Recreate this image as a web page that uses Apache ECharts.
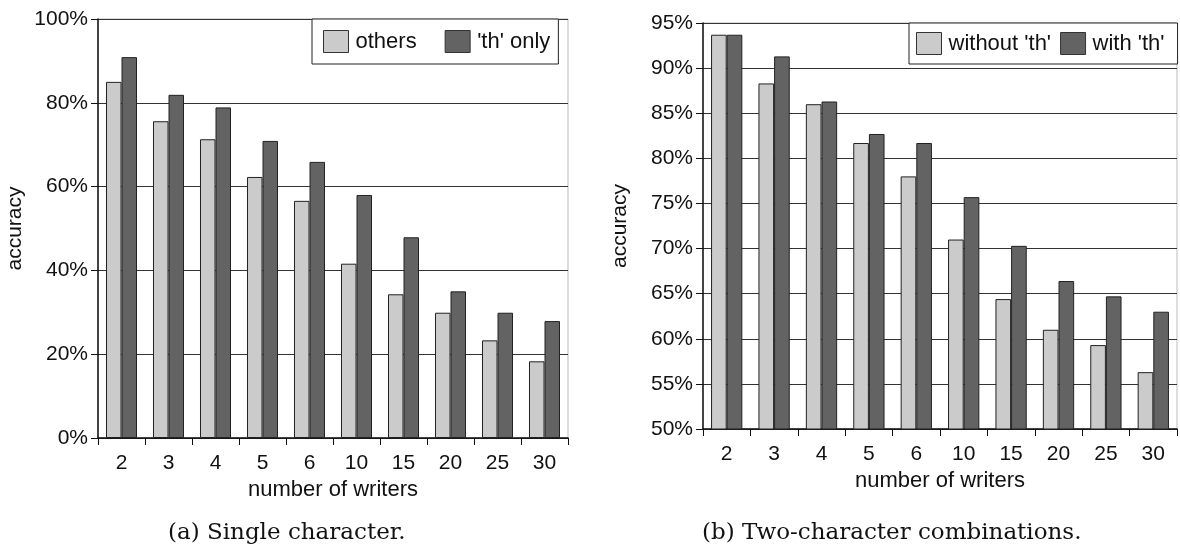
<!DOCTYPE html>
<html>
<head>
<meta charset="utf-8">
<script src="https://cdn.jsdelivr.net/npm/echarts@6/dist/echarts.min.js"></script>
<style>
html,body{margin:0;padding:0;background:#fff;}
#c{width:1180px;height:549px;}
</style>
</head>
<body>
<div id="c"></div>
<script>
const categories = ['2','3','4','5','6','10','15','20','25','30'];
// (a) Single character
const othersVals = [85.0, 75.6, 71.3, 62.3, 56.6, 41.6, 34.3, 29.9, 23.3, 18.3];
const thOnlyVals = [90.9, 81.9, 78.9, 70.9, 65.9, 58.0, 47.9, 35.0, 29.9, 27.9];
// (b) Two-character combinations
const withoutThVals = [93.7, 88.3, 86.0, 81.7, 78.0, 71.0, 64.4, 61.0, 59.3, 56.3];
const withThVals = [93.7, 91.3, 86.3, 82.7, 81.7, 75.7, 70.3, 66.4, 64.7, 63.0];
const legendA = ['others', "'th' only"];
const legendB = ["without 'th'", "with 'th'"];
const captionA = '(a) Single character.';
const captionB = '(b) Two-character combinations.';
const axisXName = 'number of writers';
const axisYName = 'accuracy';

const FONT = 'Liberation Sans, Arial, sans-serif';
const LIGHT = '#cbcbcb';
const DARK = '#636363';
const chart = echarts.init(document.getElementById('c'), null, {renderer: 'canvas'});

function xAxisCfg(gi) {
  return {
    type: 'category', gridIndex: gi, data: categories,
    axisLine: {lineStyle: {color: '#111', width: 1.5}},
    axisTick: {show: true, inside: false, length: 7, lineStyle: {color: '#111'}},
    axisLabel: {color: '#111', fontFamily: FONT, fontSize: 21, margin: 15},
    name: axisXName, nameLocation: 'middle', nameGap: 39,
    nameTextStyle: {color: '#111', fontFamily: FONT, fontSize: 22}
  };
}
function yAxisCfg(gi, min, max, interval, gap) {
  return {
    type: 'value', gridIndex: gi, min: min, max: max, interval: interval,
    axisLine: {show: true, lineStyle: {color: '#111', width: 1.5}},
    axisTick: {show: true, inside: false, length: 7, lineStyle: {color: '#111'}},
    axisLabel: {color: '#111', fontFamily: FONT, fontSize: 21, margin: 10, formatter: '{value}%'},
    splitLine: {show: true, lineStyle: {color: '#333', width: 1}},
    name: axisYName, nameLocation: 'middle', nameGap: gap, nameRotate: 90,
    nameTextStyle: {color: '#111', fontFamily: FONT, fontSize: 21}
  };
}
function barSeries(name, data, color, gi) {
  return {
    type: 'bar', name: name, data: data, xAxisIndex: gi, yAxisIndex: gi,
    barGap: '0%', barCategoryGap: '34%',
    itemStyle: {color: color, borderColor: '#222', borderWidth: 1},
    animation: false
  };
}
function legendCfg(names, left, top, padding, gap) {
  return {
    data: names, left: left, top: top, orient: 'horizontal',
    itemWidth: 25, itemHeight: 22, itemGap: gap,
    padding: padding, borderColor: '#222', borderWidth: 1, backgroundColor: '#fff',
    icon: 'rect',
    itemStyle: {borderColor: '#333', borderWidth: 1},
    textStyle: {color: '#111', fontFamily: FONT, fontSize: 22, padding: [0, 0, 0, 2]}
  };
}

chart.setOption({
  backgroundColor: '#fff',
  animation: false,
  grid: [
    {left: 98, right: 612, top: 19, bottom: 111, show: true, borderColor: '#bbb', borderWidth: 1},
    {left: 703, right: 3, top: 23, bottom: 120, show: true, borderColor: '#bbb', borderWidth: 1}
  ],
  xAxis: [xAxisCfg(0), xAxisCfg(1)],
  yAxis: [yAxisCfg(0, 0, 100, 20, 72), yAxisCfg(1, 50, 95, 5, 72)],
  legend: [
    legendCfg(legendA, 312, 19, [11, 8, 11, 11], 28),
    legendCfg(legendB, 909, 23, [9, 13, 9, 7], 9)
  ],
  series: [
    barSeries(legendA[0], othersVals, LIGHT, 0),
    barSeries(legendA[1], thOnlyVals, DARK, 0),
    barSeries(legendB[0], withoutThVals, LIGHT, 1),
    barSeries(legendB[1], withThVals, DARK, 1)
  ],
  graphic: [
    {type: 'text', left: 168, top: 522, style: {text: captionA, font: '23px "DejaVu Serif", serif', fill: '#111'}},
    {type: 'text', left: 702, top: 522, style: {text: captionB, font: '23px "DejaVu Serif", serif', fill: '#111'}}
  ]
});
</script>
</body>
</html>
